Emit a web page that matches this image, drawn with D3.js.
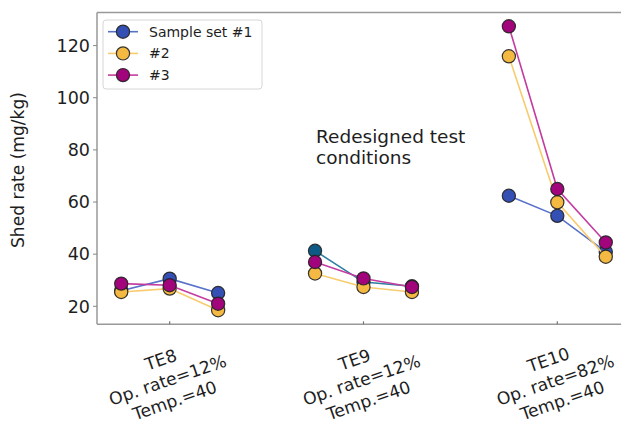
<!DOCTYPE html>
<html>
<head>
<meta charset="utf-8">
<script src="https://cdn.jsdelivr.net/npm/d3@7/dist/d3.min.js"></script>
<style>
  body { margin: 0; background: #fff; }
  svg { display: block; font-family: "DejaVu Sans", sans-serif; }
</style>
</head>
<body>
<div id="chart"></div>
<script>
// data
var positions = [0, 1, 2, 4, 5, 6, 8, 9, 10]
var groups = ['TE8', 'TE9', 'TE10']
var opRates = ['12%', '12%', '82%']
var temps = ['40', '40', '40']
var groupTicks = [1, 5, 9]
var sampleSet1 = [26.0, 30.6, 25.1, 41.3, 29.3, 27.7, 62.4, 54.7, 40.9]
var sampleSet2 = [25.5, 26.8, 18.5, 32.6, 27.4, 25.5, 115.9, 59.9, 39.0]
var sampleSet3 = [28.7, 28.1, 21.0, 37.0, 30.7, 27.4, 127.4, 65.0, 44.5]
var seriesNames = ['Sample set #1', '#2', '#3']
var yTicks = [20, 40, 60, 80, 100, 120]

var W = 621, H = 421
// plot box (window.top is taken, so prefix these)
var pLeft = 97, pRight = 630, pTop = 12.5, pBottom = 324.3

var svg = d3.select('#chart').append('svg')
  .attr('width', W).attr('height', H)

var x = d3.scaleLinear().domain([-0.5, 10.5]).range([pLeft, pRight])
var y = d3.scaleLinear().domain([13.1, 132.7]).range([pBottom, pTop])

// clip so the plot gets cut at the right like the reference
svg.append('defs').append('clipPath').attr('id', 'plot_clip')
  .append('rect').attr('x', pLeft).attr('y', pTop)
  .attr('width', pRight - pLeft).attr('height', pBottom - pTop)

// series styles: marker fill, line colour
var series = [
  {name: seriesNames[0], vals: sampleSet1, fill: '#3550b4', line: '#5872c9',
   // the TE9 group of set #1 is drawn in a teal blue in the reference
   groupFill: [null, '#0d5a86', null], groupLine: [null, '#2d7fa3', null]},
  {name: seriesNames[1], vals: sampleSet2, fill: '#f4b942', line: '#f8cc6e'},
  {name: seriesNames[2], vals: sampleSet3, fill: '#a1047b', line: '#c43c9f'}
]

var plot = svg.append('g').attr('clip-path', 'url(#plot_clip)')
var line = d3.line().x(function(d){ return x(d.p) }).y(function(d){ return y(d.v) })

series.forEach(function(s){
  var g = plot.append('g')
  groups.forEach(function(name, gi){
    var pts = d3.range(gi * 3, gi * 3 + 3).map(function(i){
      return {p: positions[i], v: s.vals[i]}
    })
    var lc = (s.groupLine && s.groupLine[gi]) || s.line
    var fc = (s.groupFill && s.groupFill[gi]) || s.fill
    g.append('path').datum(pts)
      .attr('d', line)
      .attr('fill', 'none')
      .attr('stroke', lc)
      .attr('stroke-width', 1.6)
    g.selectAll(null).data(pts).enter().append('circle')
      .attr('cx', function(d){ return x(d.p) })
      .attr('cy', function(d){ return y(d.v) })
      .attr('r', 6.6)
      .attr('fill', fc)
      .attr('stroke', '#222')
      .attr('stroke-opacity', 0.9)
      .attr('stroke-width', 1.2)
  })
})

// frame (right side runs off the picture)
var frame = svg.append('g').attr('stroke', '#999').attr('stroke-width', 1.5)
frame.append('line').attr('x1', pLeft).attr('x2', W).attr('y1', pTop).attr('y2', pTop)
frame.append('line').attr('x1', pLeft).attr('x2', W).attr('y1', pBottom).attr('y2', pBottom)
frame.append('line').attr('x1', pLeft).attr('x2', pLeft).attr('y1', pTop).attr('y2', pBottom)

// y axis
var yAxis = svg.append('g').attr('id', 'y_ticks')
yTicks.forEach(function(t){
  yAxis.append('line')
    .attr('x1', pLeft - 4).attr('x2', pLeft)
    .attr('y1', y(t)).attr('y2', y(t))
    .attr('stroke', '#888').attr('stroke-width', 1)
  yAxis.append('text')
    .attr('x', pLeft - 7).attr('y', y(t))
    .attr('dy', '0.36em')
    .attr('text-anchor', 'end')
    .attr('font-size', 17.5)
    .attr('fill', '#1e1e1e')
    .text(t)
})

svg.append('text')
  .attr('transform', 'translate(24,170) rotate(-90)')
  .attr('text-anchor', 'middle')
  .attr('font-size', 17.1)
  .attr('fill', '#1e1e1e')
  .text('Shed rate (mg/kg)')

// x axis: small inward ticks and rotated three-line labels
var xAxis = svg.append('g').attr('id', 'x_ticks')
groupTicks.forEach(function(t, gi){
  xAxis.append('line')
    .attr('x1', x(t)).attr('x2', x(t))
    .attr('y1', pBottom).attr('y2', pBottom - 3)
    .attr('stroke', '#777').attr('stroke-width', 1.2)
  var lab = xAxis.append('text')
    .attr('transform', 'translate(' + (x(t) - 2) + ',380) rotate(-19)')
    .attr('text-anchor', 'middle')
    .attr('font-size', 17.2)
    .attr('fill', '#1e1e1e')
  var lines = [groups[gi], 'Op. rate=' + opRates[gi], 'Temp.=' + temps[gi]]
  lines.forEach(function(l, li){
    lab.append('tspan').attr('x', 0).attr('y', (li - 1) * 21.5)
      .attr('dy', '0.36em').text(l)
  })
})

// annotation
var note = svg.append('text')
  .attr('x', 316).attr('font-size', 18.5).attr('fill', '#1e1e1e')
note.append('tspan').attr('x', 316).attr('y', 143).text('Redesigned test')
note.append('tspan').attr('x', 316).attr('y', 164).text('conditions')

// legend
var legend = svg.append('g').attr('id', 'legend')
legend.append('rect')
  .attr('x', 103).attr('y', 20).attr('width', 159).attr('height', 69)
  .attr('rx', 3)
  .attr('fill', '#fff').attr('fill-opacity', 0.85)
  .attr('stroke', '#d6d6d6').attr('stroke-width', 1)
series.forEach(function(s, i){
  var ly = 31.7 + i * 21.7
  legend.append('line')
    .attr('x1', 108).attr('x2', 138).attr('y1', ly).attr('y2', ly)
    .attr('stroke', s.line).attr('stroke-width', 1.6)
  legend.append('circle')
    .attr('cx', 123).attr('cy', ly).attr('r', 6.6)
    .attr('fill', s.fill).attr('stroke', '#222')
    .attr('stroke-opacity', 0.9).attr('stroke-width', 1.2)
  legend.append('text')
    .attr('x', 149).attr('y', ly).attr('dy', '0.36em')
    .attr('font-size', 14).attr('fill', '#1e1e1e')
    .text(s.name)
})
</script>
</body>
</html>
